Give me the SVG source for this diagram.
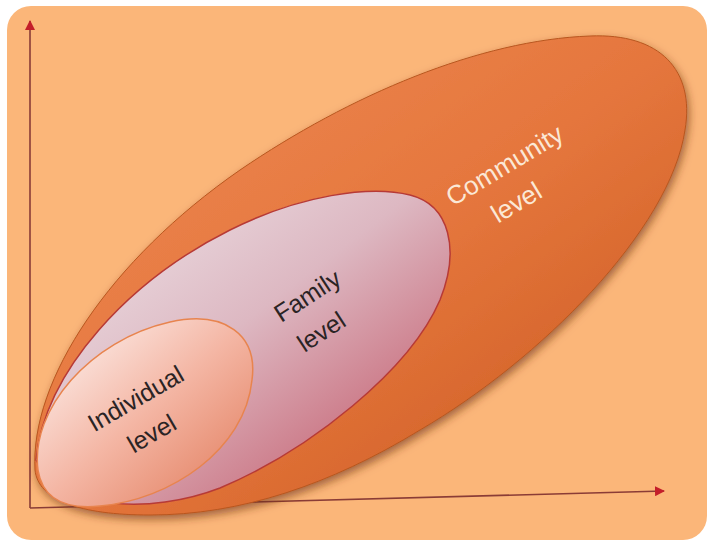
<svg xmlns="http://www.w3.org/2000/svg" width="708" height="541" viewBox="0 0 708 541">
<defs>
<style>
.lbl{font-family:"Liberation Sans",Arial,sans-serif;font-size:25px;text-anchor:middle}
.dark{fill:#2b2424}
.light{fill:#fbe8d6;font-size:26px}
.axis{stroke:#8a3c36;stroke-width:1.6;fill:none}
</style>
<linearGradient id="gc" x1="0" y1="0" x2="1" y2="1">
<stop offset="0" stop-color="#ef8c55"/>
<stop offset="0.5" stop-color="#e5763d"/>
<stop offset="1" stop-color="#c8581b"/>
</linearGradient>
<linearGradient id="gf" x1="0.1" y1="0.1" x2="0.9" y2="0.9">
<stop offset="0" stop-color="#ecdfe4"/>
<stop offset="0.45" stop-color="#ddb8c2"/>
<stop offset="1" stop-color="#c45c6c"/>
</linearGradient>
<linearGradient id="gi" x1="0.1" y1="0.1" x2="0.9" y2="0.9">
<stop offset="0" stop-color="#fcece8"/>
<stop offset="0.5" stop-color="#f4b6a4"/>
<stop offset="1" stop-color="#e48466"/>
</linearGradient>
<filter id="sh" x="-10%" y="-10%" width="120%" height="125%">
<feDropShadow dx="2" dy="4" stdDeviation="4" flood-color="#6a2c08" flood-opacity="0.6"/>
</filter>
<marker id="ah" viewBox="0 0 10 10" refX="9" refY="5" markerWidth="10" markerHeight="10" markerUnits="userSpaceOnUse" orient="auto">
<path d="M0,0 L10,5 L0,10 Z" fill="#c41e2a"/>
</marker>
</defs>
<rect x="0" y="0" width="708" height="541" fill="#ffffff"/>
<rect x="7" y="6" width="700" height="534" rx="24" fill="#fbb679"/>
<g id="connectors">
<path class="axis" d="M30,508 L30,21" marker-end="url(#ah)"/>
<path class="axis" d="M30,508 L664,491" marker-end="url(#ah)"/>
</g>
<g id="community">
<path d="M35,470 C30,380 110,260 240,170 C350,95 480,40 590,36 C660,33 695,70 685,130 C670,230 540,360 420,430 C330,485 240,515 150,515 C80,515 38,500 35,470 Z" fill="url(#gc)" stroke="#b9561f" stroke-width="1" filter="url(#sh)"/>
<text class="lbl light" transform="translate(509,173) rotate(-31)">Community</text>
<text class="lbl light" transform="translate(521,210) rotate(-31)">level</text>
</g>
<g id="family">
<path d="M36,460 C45,370 130,280 230,230 C300,195 370,185 410,195 C450,205 460,250 440,300 C410,370 310,450 220,488 C150,515 60,510 36,460 Z" fill="url(#gf)" stroke="#b73a36" stroke-width="1.5"/>
<text class="lbl dark" transform="translate(312,303) rotate(-33)">Family</text>
<text class="lbl dark" transform="translate(326,339) rotate(-33)">level</text>
</g>
<g id="individual">
<path d="M38,470 C30,410 90,340 170,322 C225,310 258,335 252,380 C245,450 170,500 100,506 C60,510 42,495 38,470 Z" fill="url(#gi)" stroke="#e8844e" stroke-width="1.5"/>
<text class="lbl dark" transform="translate(140,406) rotate(-30)">Individual</text>
<text class="lbl dark" transform="translate(156,441) rotate(-30)">level</text>
</g>
</svg>
